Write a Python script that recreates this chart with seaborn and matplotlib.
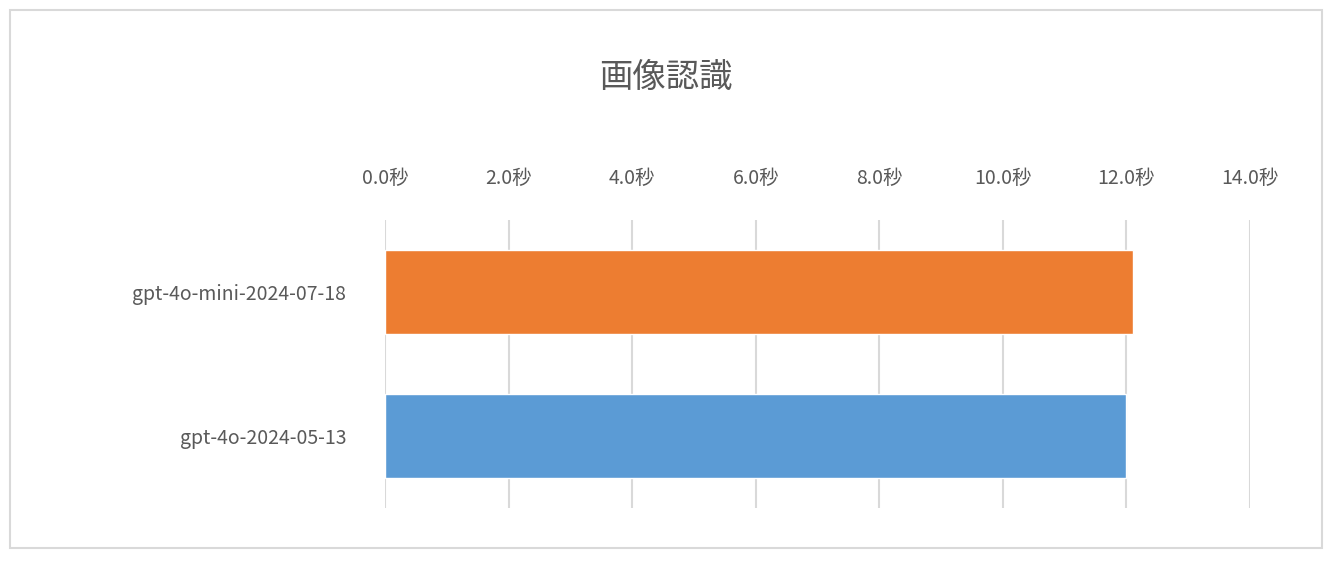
import matplotlib
matplotlib.use('Agg')
import matplotlib.pyplot as plt
import seaborn as sns
import pandas as pd
from matplotlib.patches import Rectangle

models = ['gpt-4o-mini-2024-07-18', 'gpt-4o-2024-05-13']
seconds = [12.1, 12.0]
colors = ['#ED7D31', '#5B9BD5']
ticks = [0, 2, 4, 6, 8, 10, 12, 14]
title = '画像認識'

sns.set_theme(style='white')
plt.rcParams['font.family'] = ['Noto Sans CJK JP', 'DejaVu Sans']

df = pd.DataFrame({'model': models, 'sec': seconds})

fig = plt.figure(figsize=(13.32, 5.61), dpi=100)
ax = fig.add_axes([385/1332, 1-508/561, 865/1332, 288/561])
sns.barplot(data=df, x='sec', y='model', hue='model', palette=colors,
            legend=False, width=0.58, ax=ax, saturation=1, zorder=3)

ax.set_xlim(0, 14)
ax.set_xticks(ticks)
ax.set_xticklabels([f'{t:.1f}秒' for t in ticks], color='#595959', fontsize=14)
ax.xaxis.tick_top()
ax.tick_params(axis='x', length=0, pad=22)
ax.tick_params(axis='y', length=0, pad=28, labelsize=14, labelcolor='#595959')
ax.grid(axis='x', color='#D9D9D9', linewidth=1.5, zorder=0)
for s in ax.spines.values():
    s.set_visible(False)
ax.set_xlabel('')
ax.set_ylabel('')

fig.text(0.5, 1-77/561, title, ha='center', va='center', fontsize=24, color='#595959')
fig.patches.append(Rectangle((10/1332, 1-548/561), 1312/1332, 538/561,
                             transform=fig.transFigure, fill=False,
                             edgecolor='#D9D9D9', linewidth=1.5))

fig.savefig('out.png', dpi=100)
